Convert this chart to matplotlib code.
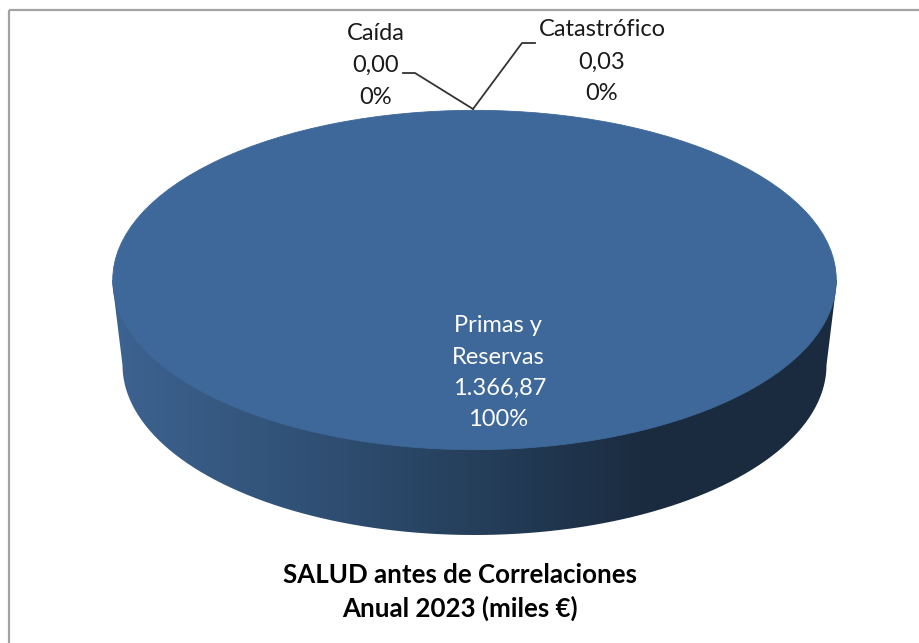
import numpy as np
import matplotlib
matplotlib.use("Agg")
import matplotlib.pyplot as plt
from matplotlib.colors import LinearSegmentedColormap
from matplotlib.patches import PathPatch, Rectangle
from matplotlib.path import Path

W, H = 920, 643

# Data
categories = ["Primas y\nReservas", "Caída", "Catastrófico"]
values = [1366.87, 0.00, 0.03]
value_labels = ["1.366,87", "0,00", "0,03"]
pct_labels = ["100%", "0%", "0%"]
title_lines = ["SALUD antes de Correlaciones", "Anual 2023 (miles €)"]

TOP_COLOR = "#3d6899"
wall_stops = [(0.0, "#3d6391"), (0.40, "#2a4767"), (0.74, "#1a2b3f"), (1.0, "#1a2b3f")]

plt.rcParams["font.family"] = ["Lato", "DejaVu Sans"]

fig = plt.figure(figsize=(W / 100, H / 100), dpi=100)

# Background axes in image pixels
ax = fig.add_axes([0, 0, 1, 1])
ax.set_xlim(0, W)
ax.set_ylim(H, 0)
ax.axis("off")

# Chart frame, right and bottom edges fall outside the image
ax.add_patch(Rectangle((9.5, 9.5), 930, 660, fill=False, edgecolor="#a3a3a3", lw=1.6))

# Side wall of the 3D disc with horizontal gradient
cx, cy, rx, ry = 474.5, 280, 362.5, 170
low_cy, low_rx, low_ry = 365, 352, 170
t = np.linspace(0, np.pi, 200)
lower_x = cx + low_rx * np.cos(t)
lower_y = low_cy + low_ry * np.sin(t)
wall_x = np.r_[cx + rx, lower_x, cx - rx]
wall_y = np.r_[cy, lower_y, cy]
wall = PathPatch(Path(np.c_[wall_x, wall_y]), facecolor="none", edgecolor="none")
ax.add_patch(wall)
cmap = LinearSegmentedColormap.from_list("wall", wall_stops)
grad = ax.imshow(np.linspace(0, 1, 256).reshape(1, -1), cmap=cmap, aspect="auto",
                 extent=(cx - rx, cx + rx, 540, cy), zorder=2)
grad.set_clip_path(wall)
ax.set_xlim(0, W)
ax.set_ylim(H, 0)

# Top face: pie in its own axes stretched into the ellipse
pie_ax = fig.add_axes([(cx - rx) / W, 1 - (cy + ry) / H, 2 * rx / W, 2 * ry / H])
pie_ax.pie(values, startangle=90, counterclock=False, radius=1, colors=[TOP_COLOR] * 3,
           wedgeprops={"edgecolor": TOP_COLOR, "linewidth": 0.6})
pie_ax.set_aspect("auto")
pie_ax.set_xlim(-1.002, 1.002)
pie_ax.set_ylim(-1.002, 1.002)

# Overlay for labels
over = fig.add_axes([0, 0, 1, 1], facecolor="none")
over.set_xlim(0, W)
over.set_ylim(H, 0)
over.axis("off")

FS = 17
LINE = "#333333"
inner_lines = categories[0].split("\n") + [value_labels[0], pct_labels[0]]
for text, x, y in zip(inner_lines, [498, 498, 500, 498], [325, 357, 388, 420]):
    over.text(x, y, text, color="white", fontsize=FS, ha="center", va="center")

for text, y in zip([categories[1], value_labels[1], pct_labels[1]], [33, 65, 97]):
    over.text(375.5, y, text, color="#1a1a1a", fontsize=FS, ha="center", va="center")
for text, y in zip([categories[2], value_labels[2], pct_labels[2]], [30, 62, 93]):
    over.text(602, y, text, color="#1a1a1a", fontsize=FS, ha="center", va="center")

# Leader lines
over.plot([403, 415, 473], [73, 73, 109], color=LINE, lw=1.3)
over.plot([473, 522, 535], [109, 43, 43], color=LINE, lw=1.3)

for text, y in zip(title_lines, [575, 608]):
    over.text(460, y, text, color="black", fontsize=18.6, fontweight="bold", ha="center", va="center")

fig.savefig("out.png", dpi=100)
